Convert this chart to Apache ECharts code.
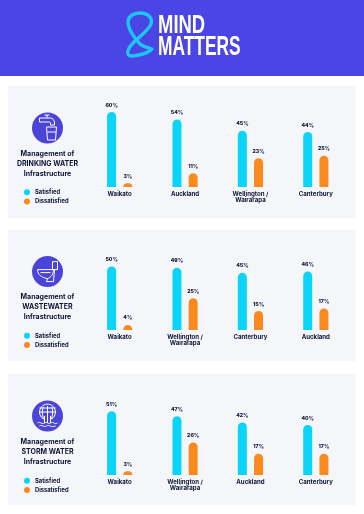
<!DOCTYPE html>
<html><head><meta charset="utf-8">
<style>html,body{margin:0;padding:0;background:#fff}#c{width:364px;height:514px}</style>
<script src="https://cdn.jsdelivr.net/npm/echarts@6/dist/echarts.min.js"></script>
</head><body><div id="c"></div>
<script>
const WELL = 'Wellington /\nWairarapa';
const categoriesDrinking = ['Waikato','Auckland',WELL,'Canterbury'];
const satisfiedDrinking = [60,54,45,44];
const dissatisfiedDrinking = [3,11,23,25];
const categoriesWaste = ['Waikato',WELL,'Canterbury','Auckland'];
const satisfiedWaste = [50,49,45,46];
const dissatisfiedWaste = [4,25,15,17];
const categoriesStorm = ['Waikato',WELL,'Auckland','Canterbury'];
const satisfiedStorm = [51,47,42,40];
const dissatisfiedStorm = [3,26,17,17];

const CYAN='#0ad4f7', ORANGE='#fb8a1c', INK='#0e1433', FONT='Inter, Lato, sans-serif';
let shapeId=0;
function pathEl(d,x,y,style){
  const name='rs'+(shapeId++);
  echarts.graphic.registerShape(name,echarts.graphic.extendPath(d,{}));
  return {type:name,x,y,style,silent:true};
}
const panels=[
 {cats:categoriesDrinking,s:satisfiedDrinking,d:dissatisfiedDrinking,top:86,bottom:218,base:187,scale:1.25,iconY:128,lines:['Management of','DRINKING WATER','Infrastructure'],textY:154,legendY:189,
  icon:['M-3,-13 H2 M-0.5,-13 V-10 M-8,-10 H3 C5,-10 7,-8 7,-5 V-3 H3 V-5 C3,-6 2,-6 1,-6 H-8 Z','M-1,-1 H9 L8,12 H0 Z M0,4 H8.5']},
 {cats:categoriesWaste,s:satisfiedWaste,d:dissatisfiedWaste,top:230,bottom:361,base:330,scale:1.27,iconY:271.6,lines:['Management of','WASTEWATER','Infrastructure'],textY:297,legendY:332.5,
  icon:['M5,-10 H10 V-2 H5 Z','M-10,-2 H6 C6,3 3,6 0,7 L-1,10 H6 L7,-2 M-10,-2 C-10,3 -6,6 0,7 M-7,1 H3']},
 {cats:categoriesStorm,s:satisfiedStorm,d:dissatisfiedStorm,top:374,bottom:505,base:475,scale:1.25,iconY:416,lines:['Management of','STORM WATER','Infrastructure'],textY:442,legendY:477.5,
  icon:['M-4,3 A8,8 0 1 1 4,3 M-8,-4 H8 M-8,-8 H8 M0,-10 V3 M-4,-9 C-6,-5 -5,-1 -4,3 M4,-9 C6,-5 5,-1 4,3','M-3,0 V7 M0,0 V7 M3,0 V7 M-10,7 C-7,5 -6,9 -3,7 C0,5 1,9 3,7 C6,5 7,9 10,7 M-8,10 C-5,8 -4,12 -1,10 C2,8 3,12 8,10']}
];
const graphic=[
 {type:'rect',shape:{x:0,y:0,width:364,height:76},style:{fill:'#4a45e4'},silent:true},
 pathEl('M152,49 C148,47 143,47 140,44 C135,39 128,29 128,22 C128,16 134,13 140,13 C148,13 153,18 151,24 C149,30 140,36 134,42 C130,46 127,51 128,54 C129,57 134,56 139,55 C144,54 149,52 152,49 Z',0,0,{fill:'none',stroke:'#1bc7fb',lineWidth:3.4,lineJoin:'round'}),
 {type:'text',x:158,y:12.5,scaleX:0.71,style:{text:'MIND',fill:'#fff',font:'bold 26px "Liberation Sans Narrow", "Liberation Sans", sans-serif'},silent:true},
 {type:'text',x:158,y:33.5,scaleX:0.62,style:{text:'MATTERS',fill:'#fff',font:'bold 28px "Liberation Sans Narrow", "Liberation Sans", sans-serif'},silent:true}
];
const grid=[],xAxis=[],yAxis=[],series=[],legend=[];
panels.forEach((p,i)=>{
 graphic.unshift({type:'rect',shape:{x:8,y:p.top,width:347.5,height:p.bottom-p.top},style:{fill:'#f4f6fa'},silent:true});
 graphic.push({type:'circle',shape:{cx:47.5,cy:p.iconY,r:15.5},style:{fill:'#4a45d8'},silent:true});
 p.icon.forEach(d=>graphic.push(pathEl(d,47.5,p.iconY,{fill:'none',stroke:'#fff',lineWidth:1})));
 p.lines.forEach((t,j)=>graphic.push({type:'text',x:47.5,y:p.textY+j*9.7,style:{text:t,fill:INK,align:'center',verticalAlign:'middle',font:'bold 7px '+FONT},silent:true}));
 const h=80*p.scale;
 grid.push({left:87,width:261.5,top:p.base-h,height:h,containLabel:false});
 xAxis.push({type:'category',gridIndex:i,data:p.cats,axisLine:{show:false},axisTick:{show:false},
   axisLabel:{interval:0,margin:3.5,fontSize:6.1,fontWeight:700,lineHeight:6.5,color:INK,fontFamily:FONT,verticalAlign:'top'}});
 yAxis.push({type:'value',gridIndex:i,min:0,max:80,show:false,splitLine:{show:false}});
 const mk=(name,data,color)=>({name,type:'bar',xAxisIndex:i,yAxisIndex:i,data,barWidth:9,barGap:'80%',
   itemStyle:{color,borderRadius:[4.5,4.5,0,0]},
   label:{show:true,position:'top',distance:4.5,formatter:'{c}%',fontSize:5.2,fontWeight:800,color:INK,fontFamily:FONT},
   silent:true,animation:false});
 series.push(mk('Satisfied',p.s,CYAN),mk('Dissatisfied',p.d,ORANGE));
 legend.push({data:['Satisfied','Dissatisfied'],orient:'vertical',left:24,top:p.legendY+0.3,padding:0,itemWidth:6,itemHeight:6,itemGap:3.2,icon:'circle',selectedMode:false,
   textStyle:{fontSize:5.8,fontWeight:700,color:INK,fontFamily:FONT}});
});
const chart=echarts.init(document.getElementById('c'),null,{renderer:'canvas'});
chart.setOption({animation:false,backgroundColor:'#fff',color:[CYAN,ORANGE],grid,xAxis,yAxis,series,legend,graphic});
</script></body></html>
